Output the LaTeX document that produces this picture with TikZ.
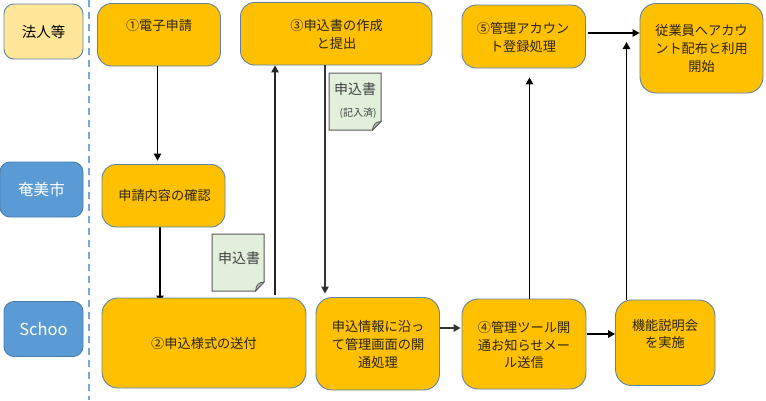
\documentclass[tikz,border=0pt]{standalone}
\usepackage{fontspec}
\setmainfont{Noto Sans CJK JP}
\usetikzlibrary{arrows.meta,backgrounds}
\definecolor{boxorange}{HTML}{FFC000}
\definecolor{boxedge}{HTML}{5F84A6}
\definecolor{lanebluefill}{HTML}{5B9BD5}
\definecolor{laneyellow}{HTML}{FFE699}
\definecolor{docfill}{HTML}{E2EFDA}
\definecolor{inktext}{HTML}{2B2410}
\tikzset{
  lane/.style={draw=boxedge,line width=0.9pt,rounded corners=10pt,inner sep=0pt,font=\fontsize{14.5}{17}\selectfont},
  stepbox/.style={draw=boxedge,fill=boxorange,line width=0.9pt,rounded corners=14pt,inner sep=0pt},
  steptext/.style={text=inktext,align=center,inner sep=0pt,font=\fontsize{13.2}{17.6}\selectfont},
  conn/.style={line width=1.2pt,draw=black,-{Triangle[length=7pt,width=7.5pt]}},
  doc/.style={draw=black!65,fill=docfill,line width=1pt},
  docfold/.style={draw=black!65,fill=docfill!80!black,line width=0.8pt},
  doctext/.style={text=black!75,inner sep=0pt,font=\fontsize{14}{16}\selectfont},
}
\begin{document}
\begin{tikzpicture}[x=1pt,y=-1pt]
\useasboundingbox (0,0) rectangle (766,400);
% lanes
\draw[draw=lanebluefill!85!white,line width=1.8pt,dash pattern=on 7pt off 5pt] (89,0) -- (89,400);
\node[lane,fill=laneyellow,text=black,minimum width=79pt,minimum height=55pt] (law) at (43.5,31.5) {法人等};
\node[lane,fill=lanebluefill,text=white,draw=lanebluefill!80!black,minimum width=83pt,minimum height=55pt,font=\fontsize{15.6}{17}\selectfont] (ama) at (41.5,189.5) {奄美市};
\node[lane,fill=lanebluefill,text=white,draw=lanebluefill!80!black,minimum width=79pt,minimum height=55pt,font=\fontsize{16.5}{17}\selectfont] (sch) at (43.5,329) {Schoo};
% step boxes
\node[stepbox,minimum width=123pt,minimum height=62.5pt] (s1) at (159,34.75) {};
\node[stepbox,minimum width=123pt,minimum height=62.5pt] (chk) at (163.5,195.75) {};
\node[stepbox,minimum width=191.5pt,minimum height=62.5pt] (s3) at (336.25,33.75) {};
\node[stepbox,minimum width=123.5pt,minimum height=63pt] (s5) at (523.75,36.5) {};
\node[stepbox,minimum width=123pt,minimum height=89.5pt,rounded corners=16pt] (use) at (701.5,48.25) {};
\node[stepbox,minimum width=204pt,minimum height=90pt,rounded corners=16pt] (s2) at (204,343) {};
\node[stepbox,minimum width=123.5pt,minimum height=92.5pt,rounded corners=16pt] (open) at (377.75,343.75) {};
\node[stepbox,minimum width=124pt,minimum height=90pt,rounded corners=16pt] (s4) at (524,344) {};
\node[stepbox,minimum width=99.5pt,minimum height=85.5pt,rounded corners=16pt] (brief) at (665.25,342.75) {};
% step texts
\node[steptext] (s1t) at (159,25.5) {①電子申請};
\node[steptext] (chkt) at (164.5,195) {申請内容の確認};
\node[steptext] (s3t) at (336.5,34.5) {③申込書の作成\\と提出};
\node[steptext] (s5t) at (523,37.5) {⑤管理アカウン\\ト登録処理};
\node[steptext] (uset) at (701.5,48.5) {従業員へアカウ\\ント配布と利用\\開始};
\node[steptext] (s2t) at (204,343) {②申込様式の送付};
\node[steptext] (opent) at (378,344.5) {申込情報に沿っ\\て管理画面の開\\通処理};
\node[steptext] (s4t) at (524,345) {④管理ツール開\\通お知らせメー\\ル送信};
\node[steptext] (brieft) at (665,334) {機能説明会\\を実施};
% documents
\draw[doc] (212,234) -- (264,234) -- (264,282) -- (255.5,291) -- (212,291) -- cycle;
\draw[docfold] (264,282) .. controls (259,282) and (256,285) .. (255.5,291) -- cycle;
\node[doctext] (d1t) at (239,258) {申込書};
\draw[doc] (329,73) -- (381,73) -- (381,121.5) -- (372.5,130) -- (329,130) -- cycle;
\draw[docfold] (381,121.5) .. controls (376,121.5) and (373,124.5) .. (372.5,130) -- cycle;
\node[doctext] (d2t) at (355,89) {申込書};
\node[doctext,font=\fontsize{10}{12}\selectfont] (d2s) at (358,113) {(記入済)};
% connector lines of sight
\coordinate (xa) at (157.5,0);
\coordinate (xb) at (275,0);
\coordinate (xc) at (325,0);
\coordinate (xd) at (529.5,0);
\coordinate (xe) at (626.5,0);
\coordinate (xf) at (160,0);
\coordinate (ya) at (0,328);
\coordinate (yb) at (0,334);
\coordinate (yc) at (0,33);
\coordinate (yd) at (0,42);
% connectors
\draw[conn,shorten >=3.5pt] (s1.south -| xa) -- (chk.north -| xa);
\draw[conn,draw=black!85,shorten <=2.5pt] (s2.north -| xb) -- (s3.south -| xb);
\draw[conn,draw=black!80,shorten >=3.5pt] (s3.south -| xc) -- (open.north -| xc);
\draw[conn,draw=black!80,shorten >=1pt] (open.east |- ya) -- (s4.west |- ya);
\draw[conn,shorten >=9pt] (s4.north -| xd) -- (s5.south -| xd);
\draw[conn,shorten <=1pt] (s4.east |- yb) -- (brief.west |- yb);
\draw[conn] (brief.north -| xe) -- (xe |- yd);
\draw[conn,shorten <=2.5pt] (s5.east |- yc) -- (use.west |- yc);
\begin{scope}[on background layer]
\draw[conn,shorten >=-5pt] (chk.south -| xf) -- (s2.north -| xf);
\end{scope}
\end{tikzpicture}
\end{document}
